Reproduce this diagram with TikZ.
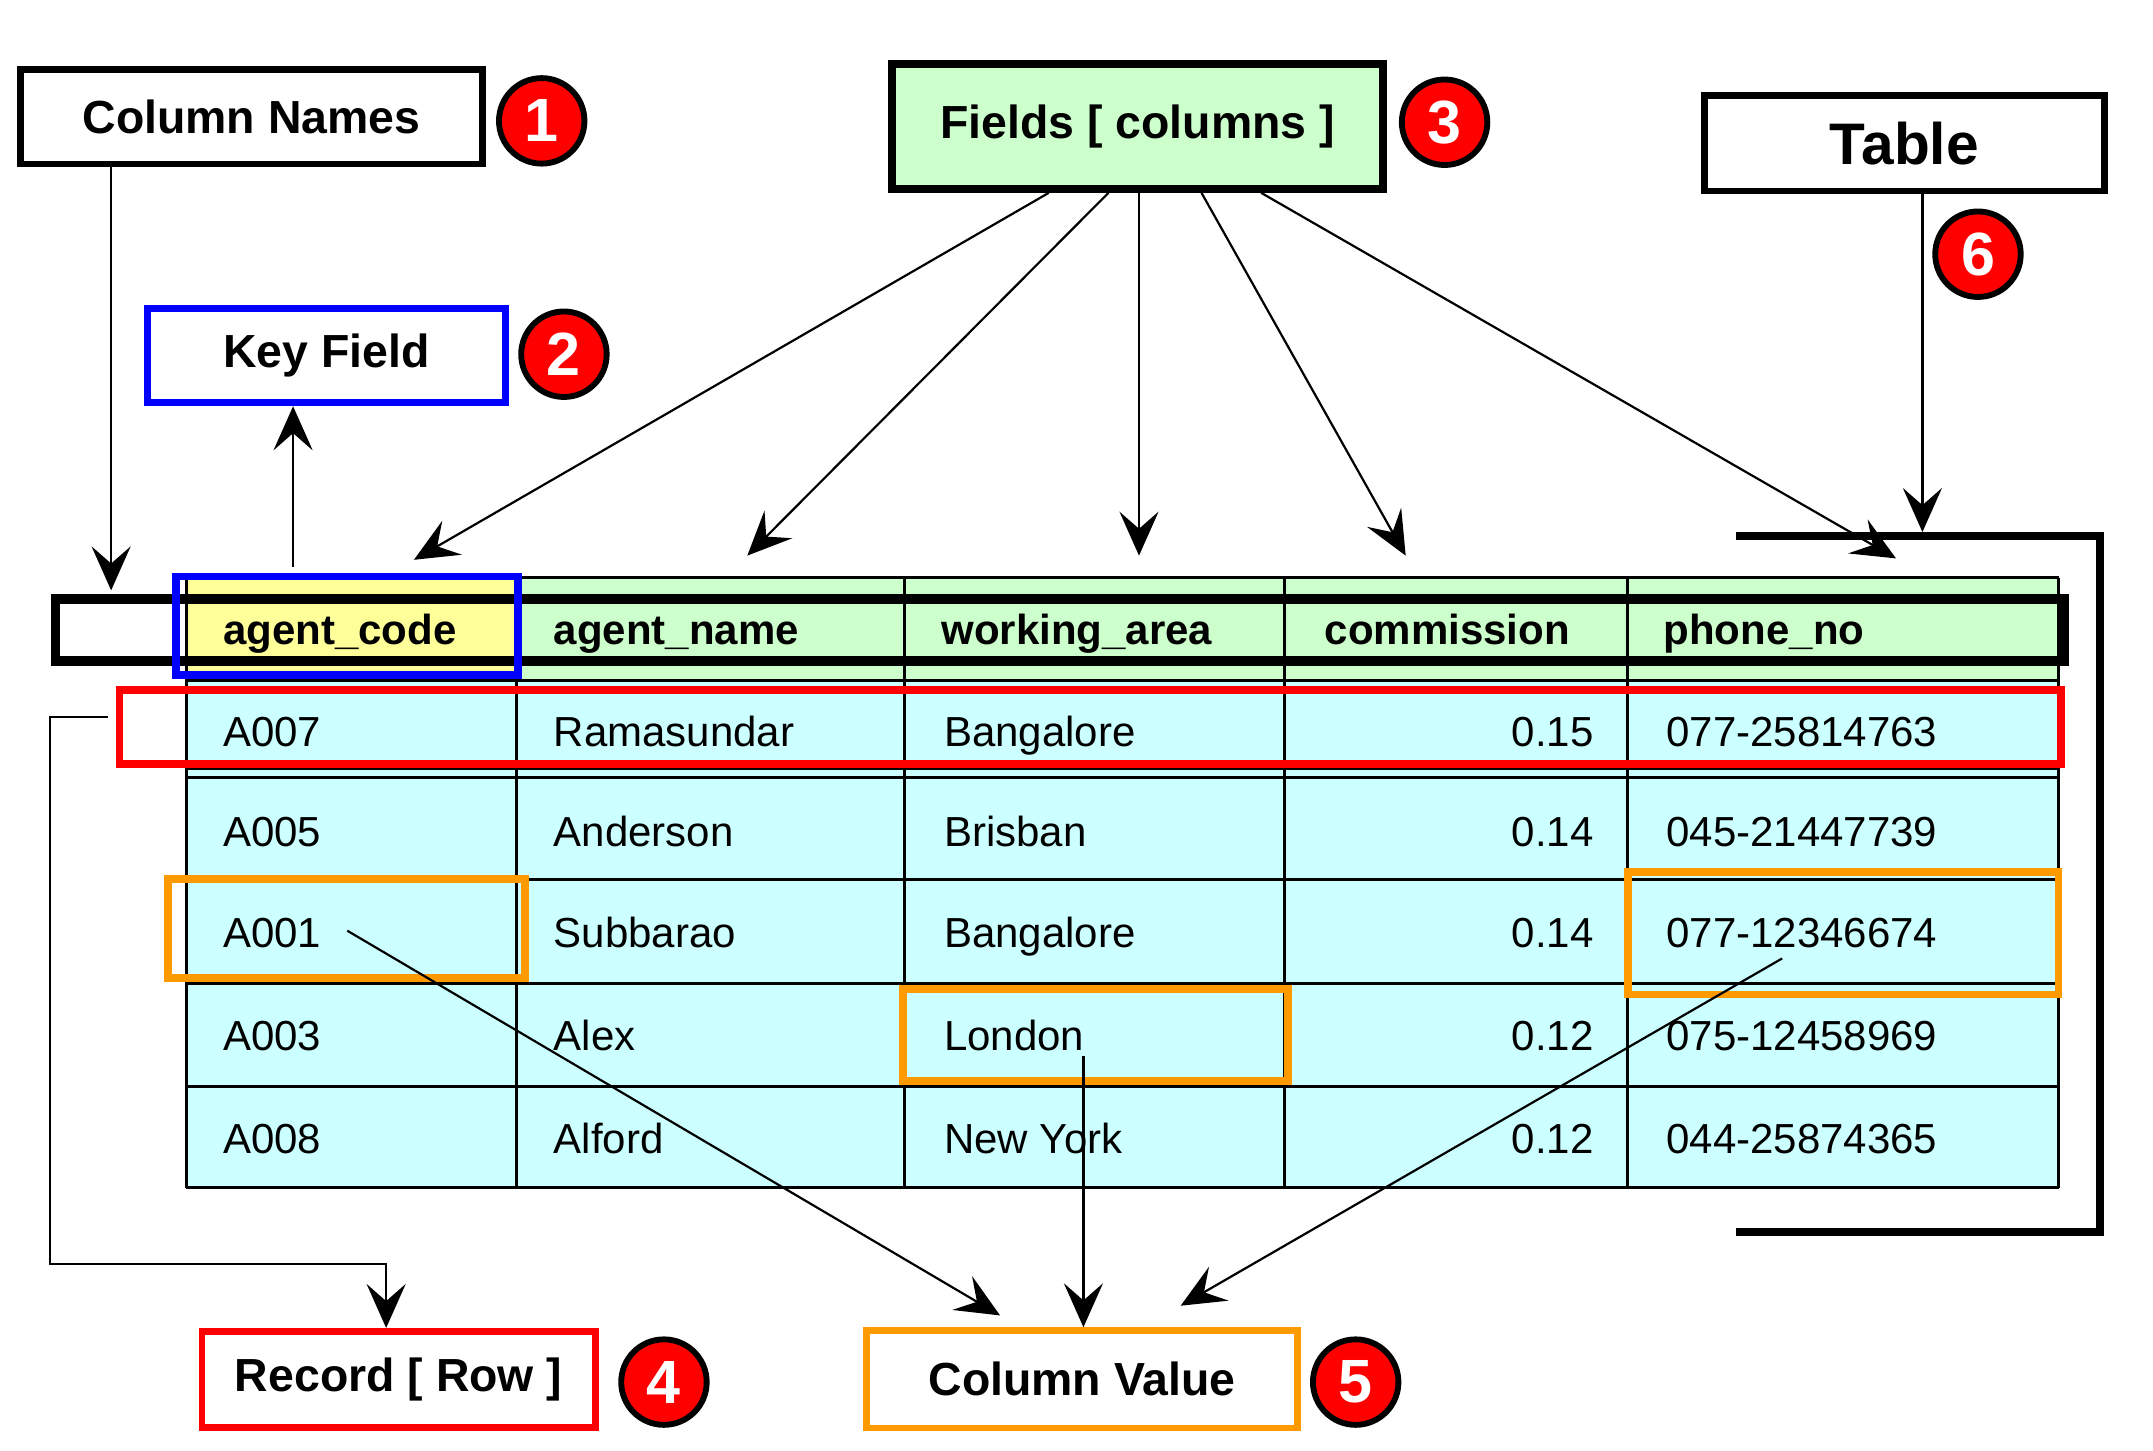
\documentclass[tikz,border=0pt]{standalone}
\usepackage{fontspec}
\setmainfont{Liberation Sans}
\usetikzlibrary{arrows.meta}
\definecolor{hgreen}{RGB}{204,255,204}
\definecolor{cyanc}{RGB}{204,255,255}
\definecolor{yel}{RGB}{255,255,153}
\definecolor{org}{RGB}{255,153,0}
\definecolor{redc}{RGB}{255,0,0}
\definecolor{bluec}{RGB}{0,0,255}
\tikzset{
 lbl/.style={draw,line width=1.4pt,fill=white,font=\bfseries\fontsize{9.5}{11}\selectfont,inner sep=0pt},
 num/.style={circle,draw=black,line width=1.2pt,fill=red,text=white,minimum size=17.5pt,inner sep=0pt,font=\bfseries\fontsize{12.5}{14}\selectfont},
 arr/.style={line width=0.45pt,-{Stealth[length=9pt,width=8pt,inset=3.5pt]}},
 cell/.style={font=\fontsize{8.6}{10}\selectfont,anchor=west,inner sep=0pt,text height=1.6ex,text depth=0.3ex},
 hcell/.style={font=\bfseries\fontsize{8.6}{10}\selectfont,anchor=west,inner sep=0pt,text height=1.6ex,text depth=0.3ex},
 hl/.style={line width=1.6pt},
}
\begin{document}
\begin{tikzpicture}[x=0.01cm,y=-0.01cm]
\useasboundingbox (0,0) rectangle (1550,1044);
% table fills
\fill[hgreen] (134,416) rectangle (1482,490);
\fill[yel] (134,416) rectangle (372,490);
\fill[cyanc] (134,490) rectangle (1482,855);
% table grid
\foreach \yy in {416,490,497,553,560,633,708,782,855}
  \draw[line width=0.6pt] (134,\yy) -- (1482,\yy);
\foreach \xx in {134,372,651,925,1172,1482}
  \draw[line width=0.6pt] (\xx,416) -- (\xx,855);
% header text
\node[hcell] (h1) at (160,452) {agent\_code};
\node[hcell] (h2) at (398,452) {agent\_name};
\node[hcell] (h3) at (677,452) {working\_area};
\node[hcell] (h4) at (953,452) {commission};
\node[hcell] (h5) at (1197,452) {phone\_no};
% rows
\foreach \y/\a/\b/\c/\d/\e [count=\i] in {
 525/A007/Ramasundar/Bangalore/0.15/077-25814763,
 597/A005/Anderson/Brisban/0.14/045-21447739,
 670/A001/Subbarao/Bangalore/0.14/077-12346674,
 744/A003/Alex/London/0.12/075-12458969,
 818/A008/Alford/New York/0.12/044-25874365}{
 \node[cell] (ra\i) at (160,\y) {\a};
 \node[cell] (rb\i) at (398,\y) {\b};
 \node[cell] (rc\i) at (679,\y) {\c};
 \node[cell,anchor=east] (rd\i) at (1148,\y) {\d};
 \node[cell] (re\i) at (1199,\y) {\e};
}
% highlight boxes
\draw[line width=2pt] (40,431) rectangle (1486,476);
\draw[hl,bluec] (127,415) rectangle (373,486);
\draw[hl,redc] (86,497) rectangle (1484,550);
\draw[hl,org] (121,633) rectangle (378,704);
\draw[hl,org] (650,712) rectangle (927,778);
\draw[hl,org] (1172,628) rectangle (1482,716);
% bracket
\draw[line width=1.6pt] (1250,386) -- (1512,386) -- (1512,887) -- (1250,887);
% label boxes
\node[lbl,minimum width=3.32cm,minimum height=0.68cm] (cn) at (181,84) {Column Names};
\node[lbl,draw=bluec,minimum width=2.58cm,minimum height=0.68cm] (kf) at (235,256) {Key Field};
\node[lbl,fill=hgreen,line width=1.6pt,minimum width=3.53cm,minimum height=0.9cm] (fc) at (819,91) {Fields [ columns ]};
\node[lbl,minimum width=2.88cm,minimum height=0.69cm,font=\bfseries\fontsize{12}{14}\selectfont] (tb) at (1371,103) {Table};
\node[lbl,draw=redc,minimum width=2.83cm,minimum height=0.69cm] (rr) at (287,993) {Record [ Row ]};
\node[lbl,draw=org,minimum width=3.1cm,minimum height=0.7cm] (cv) at (779,993) {Column Value};
\node[num] (n1) at (390,87) {1};
\node[num] (n2) at (406,255) {2};
\node[num] (n3) at (1040,88) {3};
\node[num] (n6) at (1424,183) {6};
\node[num] (n4) at (478,995) {4};
\node[num] (n5) at (976,995) {5};
% arrows
\coordinate (c1) at (80,425);
\draw[arr] (cn.south -| c1) -- (c1);
\coordinate (k0) at (211,408);
\draw[arr] (k0) -- (kf.south -| k0);
\draw[arr] (fc.south -| 755,0) -- (298,403);
\draw[arr] (fc.south -| 798,0) -- (538,400);
\draw[arr] (fc.south -| 820,0) -- (820,400);
\draw[arr] (fc.south -| 865,0) -- (1012,400);
\draw[arr] (fc.south -| 908,0) -- (1365,402);
\coordinate (t1) at (1384,383);
\draw[arr] (tb.south -| t1) -- (t1);
\coordinate (r0) at (78,516);
\draw[arr] (r0) -- (36,516) -- (36,910) -- (278,910) -- (rr.north -| 278,0);
\coordinate (v1) at (250,670);
\coordinate (v2) at (780,760);
\coordinate (v3) at (1283,690);
\draw[arr] (v1) -- (720,947);
\draw[arr] (v2) -- (cv.north -| v2);
\draw[arr] (v3) -- (850,940);
\end{tikzpicture}
\end{document}
